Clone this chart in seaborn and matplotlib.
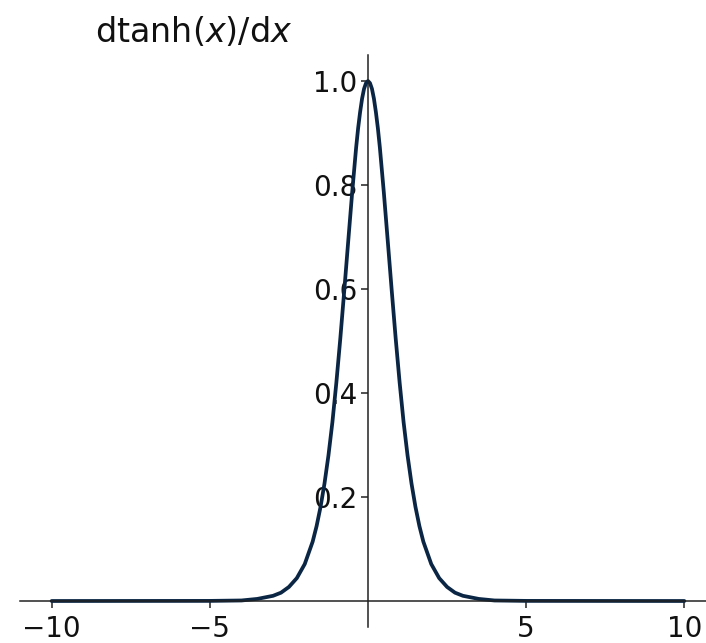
import numpy as np
import pandas as pd
import seaborn as sns
import matplotlib
matplotlib.use('Agg')
import matplotlib.pyplot as plt

# values (right half, mirrored for the left)
x_half = [0.0, 0.0625, 0.125, 0.1875, 0.25, 0.3125, 0.375, 0.5, 0.625, 0.75, 0.875,
          1.0, 1.125, 1.25, 1.375, 1.5, 1.625, 1.75, 2.0, 2.25, 2.5, 2.75, 3.0,
          3.5, 4.0, 5.0, 10.0]
y_half = [1.0, 0.996, 0.985, 0.966, 0.940, 0.909, 0.872, 0.786, 0.692, 0.597, 0.505,
          0.420, 0.344, 0.280, 0.226, 0.181, 0.144, 0.114, 0.071, 0.044, 0.027, 0.016, 0.010,
          0.004, 0.001, 0.0002, 0.0]

xs = [-v for v in x_half[::-1]] + x_half[1:]
ys = y_half[::-1] + y_half[1:]
df = pd.DataFrame({'x': xs, 'y': ys})

xticks = [-10, -5, 5, 10]
yticks = [0.2, 0.4, 0.6, 0.8, 1.0]
title = r'$\mathrm{dtanh}(x)/\mathrm{d}x$'

sns.set_style('ticks')
plt.rcParams['mathtext.fontset'] = 'dejavusans'

fig = plt.figure(figsize=(7.06, 6.43), dpi=100)
ax = fig.add_axes([20/706, 16/643, 696/706, 572/643])

sns.lineplot(data=df, x='x', y='y', ax=ax, color='#0b2644', linewidth=2.7)

ax.set_xlim(-11, 11)
ax.set_ylim(-0.05, 1.05)
ax.spines['left'].set_position(('data', 0))
ax.spines['bottom'].set_position(('data', 0))
ax.spines['top'].set_visible(False)
ax.spines['right'].set_visible(False)
for s in ['left', 'bottom']:
    ax.spines[s].set_color('#222222')
    ax.spines[s].set_linewidth(1.1)

ax.set_xticks(xticks)
ax.set_yticks(yticks)
ax.set_xticklabels(['\u2212' + str(-t) if t < 0 else str(t) for t in xticks])
ax.set_yticklabels([f'{t:.1f}' for t in yticks])
ax.tick_params(labelsize=20, length=5, width=1.1, color='#222222', labelcolor='#111111')
ax.tick_params(axis='x', pad=5)
ax.tick_params(axis='y', pad=3)
ax.set_xlabel('')
ax.set_ylabel('')

fig.text(194/706, 1 - 42/643, title, fontsize=24, ha='center', va='baseline', color='#111111')

fig.savefig('out.png', dpi=100, facecolor='white')
